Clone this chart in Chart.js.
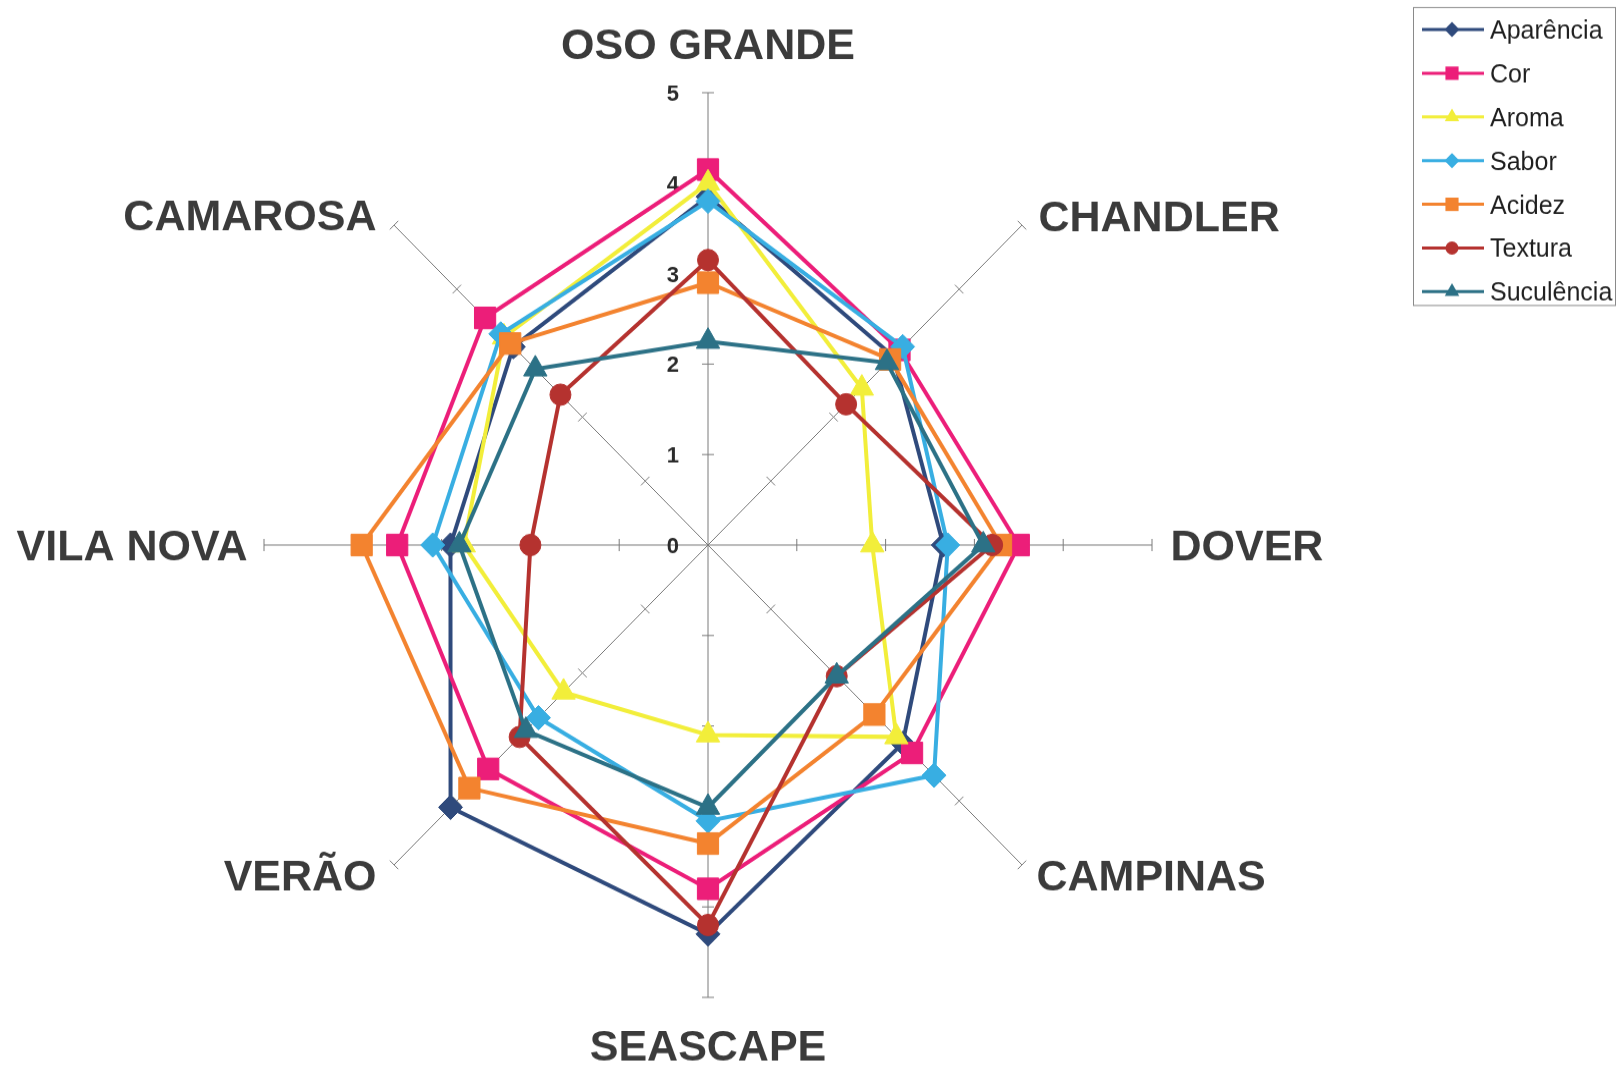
<!DOCTYPE html>
<html lang="pt">
<head>
<meta charset="utf-8">
<title>Avaliação sensorial de cultivares de morango</title>
<script src="https://cdn.jsdelivr.net/npm/chart.js@4/dist/chart.umd.min.js"></script>
<style>
  html, body { margin: 0; padding: 0; background: #ffffff; overflow: hidden; }
  #wrap { position: relative; width: 1617px; height: 1068px; overflow: hidden; }
  /* o gráfico é levemente mais alto do que largo */
  #radar { transform-origin: 708px 545px; transform: scaleY(1.0188); }
</style>
</head>
<body>
<div id="wrap"><canvas id="radar"></canvas></div>
<script>
// Cultivares (eixos, no sentido horário a partir do topo)
const cultivares = ['OSO GRANDE', 'CHANDLER', 'DOVER', 'CAMPINAS', 'SEASCAPE', 'VERÃO', 'VILA NOVA', 'CAMAROSA'];
// Marcas da escala de notas
const escala = [0, 1, 2, 3, 4, 5];

// Notas médias por atributo
const aparencia  = [3.85, 2.95, 2.65, 3.10, 4.30, 4.10, 2.90, 3.10];
const cor        = [4.15, 3.05, 3.50, 3.25, 3.80, 3.50, 3.50, 3.55];
const aroma      = [4.00, 2.45, 1.85, 3.00, 2.10, 2.30, 2.75, 3.25];
const sabor      = [3.80, 3.10, 2.70, 3.60, 3.05, 2.70, 3.10, 3.30];
const acidez     = [2.90, 2.90, 3.30, 2.65, 3.30, 3.80, 3.90, 3.15];
const textura    = [3.15, 2.20, 3.20, 2.05, 4.20, 3.00, 2.00, 2.35];
const suculencia = [2.25, 2.85, 3.10, 2.05, 2.90, 2.90, 2.80, 2.75];

const atributos = ['Aparência', 'Cor', 'Aroma', 'Sabor', 'Acidez', 'Textura', 'Suculência'];
const series = [aparencia, cor, aroma, sabor, acidez, textura, suculencia];

// Aparência das séries
const cores      = ['#2f4a7c', '#ec1e79', '#f2ee3a', '#38aee2', '#f3832f', '#b5322f', '#2c7186'];
const marcadores = ['rectRot', 'rect', 'triangle', 'rectRot', 'rect', 'circle', 'triangle'];
const raios      = [12, 15, 13.5, 12, 15, 10.5, 13.5];

// Esticamento vertical aplicado ao canvas (ver CSS) e seu centro
const ESTICA = 1.0188, CY = 545;
const yCanvas = y => CY + (y - CY) / ESTICA;

// Posição dos nomes das cultivares em relação à ponta de cada eixo
const rotulos = [
  { dx: 0,     dy: -48,  align: 'center' },
  { dx: 16.5,  dy: -9.5, align: 'left' },
  { dx: 18.5,  dy: 0,    align: 'left' },
  { dx: 14.5,  dy: 9.5,  align: 'left' },
  { dx: 0,     dy: 47,   align: 'center' },
  { dx: -17.5, dy: 9.5,  align: 'right' },
  { dx: -16.5, dy: 0,    align: 'right' },
  { dx: -17.5, dy: -10,  align: 'right' }
];

const FONTE = '"Liberation Sans", Arial, sans-serif';

function marcador(ctx, estilo, x, y, r, c) {
  ctx.fillStyle = c;
  ctx.beginPath();
  if (estilo === 'circle') {
    ctx.arc(x, y, r, 0, Math.PI * 2);
  } else if (estilo === 'rect') {
    const h = r * Math.SQRT1_2;
    ctx.rect(x - h, y - h, 2 * h, 2 * h);
  } else if (estilo === 'rectRot') {
    ctx.moveTo(x, y - r); ctx.lineTo(x + r, y); ctx.lineTo(x, y + r); ctx.lineTo(x - r, y); ctx.closePath();
  } else {
    ctx.moveTo(x, y - r); ctx.lineTo(x + r * 0.866, y + r / 2); ctx.lineTo(x - r * 0.866, y + r / 2); ctx.closePath();
  }
  ctx.fill();
}

// Marcas de escala nos eixos, números da escala, nomes das cultivares e legenda
const decoracao = {
  id: 'decoracao',
  beforeDatasetsDraw(chart) {
    const s = chart.scales.r;
    const ctx = chart.ctx;
    ctx.save();
    ctx.strokeStyle = '#7a7a7a';
    ctx.lineWidth = 1;
    for (let i = 0; i < cultivares.length; i++) {
      const a = s.getIndexAngle(i);
      const px = Math.cos(a), py = Math.sin(a);
      escala.forEach(v => {
        if (v === 0) return;
        const p = s.getPointPositionForValue(i, v);
        ctx.beginPath();
        ctx.moveTo(p.x - px * 6, p.y - py * 6);
        ctx.lineTo(p.x + px * 6, p.y + py * 6);
        ctx.stroke();
      });
    }
    ctx.font = 'bold 22px ' + FONTE;
    ctx.fillStyle = '#2b2b2b';
    ctx.textAlign = 'right';
    ctx.textBaseline = 'alphabetic';
    escala.forEach(v => {
      const p = s.getPointPositionForValue(0, v);
      ctx.fillText(String(v), p.x - 29, p.y + 8);
    });
    ctx.restore();
  },
  afterDraw(chart) {
    const s = chart.scales.r;
    const ctx = chart.ctx;
    ctx.save();
    ctx.font = 'bold 43px ' + FONTE;
    ctx.fillStyle = '#3b3b3b';
    ctx.textBaseline = 'alphabetic';
    cultivares.forEach((nome, i) => {
      const p = s.getPointPositionForValue(i, s.max);
      const r = rotulos[i];
      ctx.textAlign = r.align;
      ctx.fillText(nome, p.x + r.dx, p.y + r.dy + 15.4);
    });

    // Legenda
    const topo = yCanvas(7.5), base = yCanvas(305.5);
    ctx.fillStyle = '#ffffff';
    ctx.fillRect(1413.5, topo, 202, base - topo);
    ctx.strokeStyle = '#8a8a8a';
    ctx.lineWidth = 1;
    ctx.strokeRect(1413.5, topo, 202, base - topo);
    ctx.font = '25px ' + FONTE;
    ctx.textAlign = 'left';
    chart.data.datasets.forEach((ds, i) => {
      const y = yCanvas(29.5 + i * 43.7);
      ctx.strokeStyle = ds.borderColor;
      ctx.lineWidth = 3;
      ctx.beginPath();
      ctx.moveTo(1422, y);
      ctx.lineTo(1484, y);
      ctx.stroke();
      marcador(ctx, ds.pointStyle, 1452, y, ds.pointRadius * 0.62, ds.borderColor);
      ctx.fillStyle = '#1f1f1f';
      ctx.fillText(ds.label, 1490, y + 9);
    });
    ctx.restore();
  }
};

const datasets = series.map((valores, i) => ({
  label: atributos[i],
  data: valores,
  borderColor: cores[i],
  backgroundColor: cores[i],
  borderWidth: 4,
  fill: false,
  tension: 0,
  pointStyle: marcadores[i],
  pointRadius: raios[i],
  pointBackgroundColor: cores[i],
  pointBorderColor: cores[i],
  pointBorderWidth: 1,
  order: series.length - i
}));

new Chart(document.getElementById('radar'), {
  type: 'radar',
  data: { labels: cultivares, datasets },
  options: {
    responsive: true,
    maintainAspectRatio: false,
    animation: false,
    events: [],
    layout: { padding: { left: 264, top: 101, right: 465, bottom: 79 } },
    plugins: { legend: { display: false }, tooltip: { enabled: false } },
    scales: {
      r: {
        min: 0,
        max: 5,
        beginAtZero: true,
        ticks: { stepSize: 1, display: false, showLabelBackdrop: false },
        grid: { display: false },
        angleLines: { display: true, color: '#7a7a7a', lineWidth: 1 },
        pointLabels: { display: false }
      }
    }
  },
  plugins: [decoracao]
});
</script>
</body>
</html>
